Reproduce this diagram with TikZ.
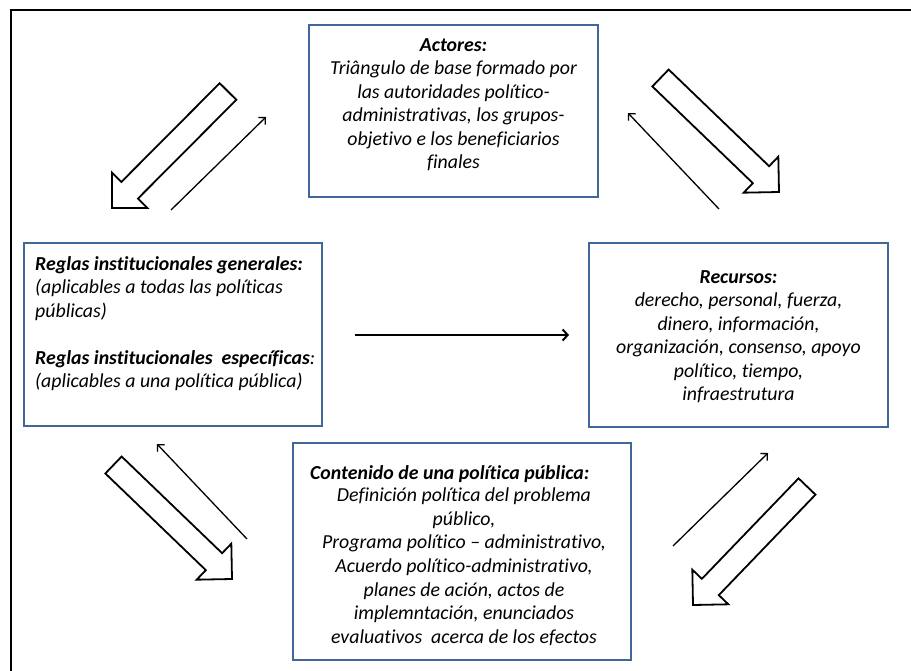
\documentclass[tikz,border=0pt]{standalone}
\usepackage{fontspec}
\setmainfont{Carlito}[Ligatures=NoCommon]
\usetikzlibrary{calc,arrows.meta}
\definecolor{boxblue}{RGB}{65,102,154}

\tikzset{
  panel/.style={draw=boxblue, line width=2.5bp, inner sep=0pt, fill=white},
  paneltext/.style={inner sep=0pt, font=\fontsize{19.9}{23.6}\selectfont\itshape},
  thinarrow/.style={line width=1.3bp, -{Straight Barb[length=5bp,width=10bp]}},
  mainarrow/.style={line width=2bp, -{Straight Barb[length=5bp,width=11bp]}},
  hollow/.style={draw=black, line width=1.8bp, fill=white, line join=miter},
}

% hollow block arrow from tail centre #1 to tip #2
\newcommand\hollowarrow[2]{%
  \coordinate (hb) at ($(#2)!25bp!(#1)$);
  \draw[hollow] ($(#1)!11.75bp!90:(#2)$) -- ($(hb)!11.75bp!90:(#2)$)
    -- ($(hb)!25bp!90:(#2)$) -- (#2) -- ($(hb)!25bp!-90:(#2)$)
    -- ($(hb)!11.75bp!-90:(#2)$) -- ($(#1)!11.75bp!-90:(#2)$) -- cycle;}

\begin{document}
\begin{tikzpicture}[x=1bp, y=-1bp]
\useasboundingbox (0,0) rectangle (911,671);

% frame
\draw[line width=2bp] (911,10) -- (11,10) -- (11,671);

% block arrows
\coordinate (tl-tail) at (228,91.5);  \coordinate (tl-tip) at (112,208);
\coordinate (tr-tail) at (660.5,78);  \coordinate (tr-tip) at (779,192);
\coordinate (bl-tail) at (113.5,465); \coordinate (bl-tip) at (232,579);
\coordinate (br-tail) at (807,486.5); \coordinate (br-tip) at (693,605);
\hollowarrow{tl-tail}{tl-tip}
\hollowarrow{tr-tail}{tr-tip}
\hollowarrow{bl-tail}{bl-tip}
\hollowarrow{br-tail}{br-tip}

% thin feedback arrows
\coordinate (tl-a) at (171,210); \coordinate (tl-b) at (266,117);
\coordinate (tr-a) at (719,209); \coordinate (tr-b) at (628,113);
\coordinate (bl-a) at (247,539); \coordinate (bl-b) at (157,444);
\coordinate (br-a) at (673,546); \coordinate (br-b) at (768,453);
\draw[thinarrow] (tl-a) -- (tl-b);
\draw[thinarrow] (tr-a) -- (tr-b);
\draw[thinarrow] (bl-a) -- (bl-b);
\draw[thinarrow] (br-a) -- (br-b);

% boxes
\node[panel, minimum width=289bp, minimum height=172bp] (actores) at (453.5,111) {};
\node[panel, minimum width=298bp, minimum height=183bp] (reglas) at (173,334.5) {};
\node[panel, minimum width=299bp, minimum height=184bp] (recursos) at (738.5,335) {};
\node[panel, minimum width=338bp, minimum height=217bp] (contenido) at (462,551.5) {};

% horizontal arrow
\coordinate (h-a) at (355,335); \coordinate (h-b) at (569,335);
\draw[mainarrow] (h-a) -- (h-b);

% texts
\node[paneltext, align=center, anchor=north] (actores-t) at (453.5,38)
  {\textbf{Actores:}\\ Triângulo de base formado por\\ las autoridades político-\\
   administrativas, los grupos-\\ objetivo e los beneficiarios\\ finales};

\node[paneltext, align=left, anchor=north west] (reglas-t) at (35,256)
  {\textbf{Reglas institucionales generales:}\\ (aplicables a todas las políticas\\
   públicas)\\[23.6bp] \textbf{Reglas institucionales\ \ específicas}:\\
   (aplicables a una política pública)};

\node[paneltext, align=center, anchor=north] (recursos-t) at (738.5,270)
  {\textbf{Recursos:}\\ derecho, personal, fuerza,\\ dinero, información,\\
   organización, consenso, apoyo\\ político, tiempo,\\ infraestrutura};

\node[paneltext, anchor=north west] (contenido-h) at (310,465)
  {\textbf{Contenido de una política pública:}};
\node[paneltext, align=center, anchor=north] (contenido-t) at (464,488)
  {Definición política del problema\\ público,\\ Programa político – administrativo,\\
   Acuerdo político-administrativo,\\ planes de ación, actos de\\
   implemntación, enunciados\\ evaluativos\ \ acerca de los efectos};
\end{tikzpicture}
\end{document}
